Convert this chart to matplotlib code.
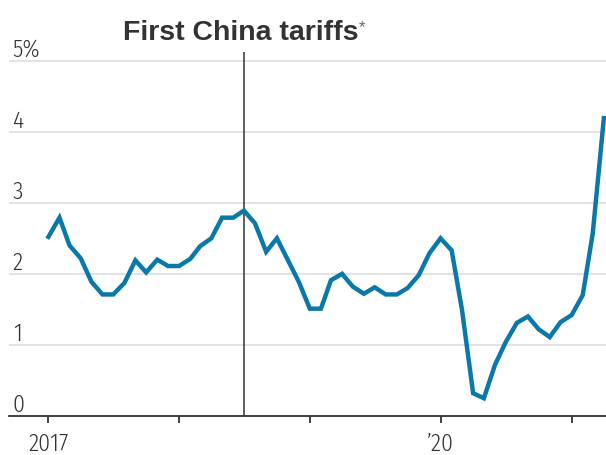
import numpy as np
import pandas as pd
import matplotlib
matplotlib.use('Agg')
import matplotlib.pyplot as plt

# monthly values, Jan 2017 .. Apr 2021 (percent)
rate = [2.52, 2.79, 2.40, 2.22, 1.89, 1.71, 1.71, 1.87, 2.19, 2.02,
        2.20, 2.11, 2.11, 2.21, 2.39, 2.50, 2.79, 2.79, 2.89, 2.71,
        2.31, 2.50, 2.19, 1.89, 1.51, 1.51, 1.91, 2.00, 1.82, 1.72,
        1.81, 1.71, 1.71, 1.80, 1.98, 2.29, 2.50, 2.33, 1.49, 0.32,
        0.25, 0.72, 1.04, 1.31, 1.40, 1.22, 1.11, 1.32, 1.42, 1.70,
        2.57, 4.19]
months = pd.date_range('2017-01-01', periods=len(rate), freq='MS')
tariff_date = pd.Timestamp('2018-07-01')   # first China tariffs

year_ticks = pd.to_datetime(['2017-01-01', '2018-01-01', '2019-01-01',
                             '2020-01-01', '2021-01-01'])
year_labels = ['2017', '', '', '\u201920', '']
y_ticks = [0, 1, 2, 3, 4, 5]
y_labels = ['0', '1', '2', '3', '4', '5%']

label_font = ['Fira Sans Condensed', 'Liberation Sans Narrow', 'Liberation Sans', 'DejaVu Sans']
title_font = ['Liberation Sans', 'DejaVu Sans']
txt = '#333333'
blue = '#0a78a9'

plt.rcParams['font.family'] = label_font
fig = plt.figure(figsize=(6.06, 4.55), dpi=100)
ax = fig.add_axes([9 / 606, 39 / 455, 597 / 606, 364.3 / 455])

ax.set_xlim(pd.Timestamp('2016-09-13'), pd.Timestamp('2021-04-07'))
ax.set_ylim(0, 5.125)

for v in y_ticks[1:]:
    ax.axhline(v, color='#e3e3e3', lw=1.4, zorder=1)
for v, lab in zip(y_ticks, y_labels):
    ax.annotate(lab, xy=(0, v), xycoords=('axes fraction', 'data'),
                xytext=(2.7, 3), textcoords='offset points',
                ha='left', va='baseline', fontsize=17, fontweight=300,
                color=txt)

ax.axvline(tariff_date, color=txt, lw=1.1, zorder=2)
ax.plot(months, rate, color=blue, lw=3.2, solid_joinstyle='miter', zorder=3)

for s in ['top', 'right', 'left']:
    ax.spines[s].set_visible(False)
ax.spines['bottom'].set_color(txt)
ax.spines['bottom'].set_linewidth(1.3)
ax.set_yticks([])
ax.set_xticks(year_ticks)
ax.set_xticklabels(year_labels, fontweight=300)
ax.tick_params(axis='x', length=5, width=1.3, color=txt, pad=7,
               labelsize=17, labelcolor=txt)

title = fig.text(122.7 / 606, 1 - 40.5 / 455, 'First China tariffs',
                 ha='left', va='baseline', fontsize=20.5, fontweight='bold',
                 color=txt, family=title_font)
ax.annotate('*', xy=(1, 1), xycoords=title, xytext=(0.3, 0.5),
            textcoords='offset points', ha='left', va='top',
            fontsize=12, color='#666666', family=title_font)

fig.savefig('out.png', dpi=100)
